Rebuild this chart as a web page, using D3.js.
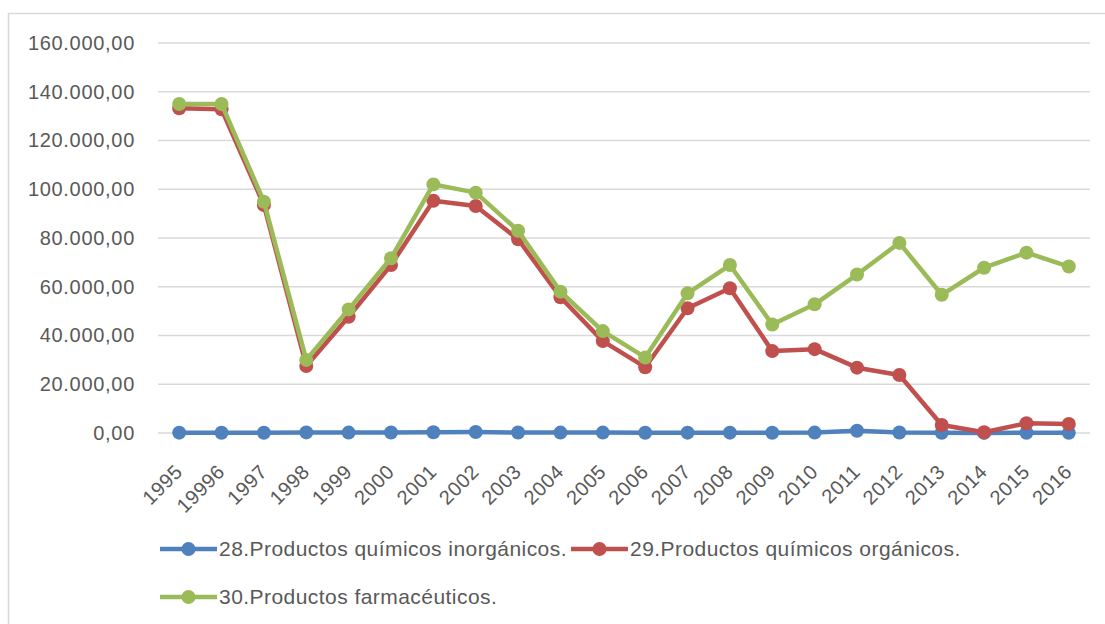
<!DOCTYPE html>
<html>
<head>
<meta charset="utf-8">
<script src="https://cdn.jsdelivr.net/npm/d3@7"></script>
<style>
    body { margin: 0; background: #fff; }
    svg { display: block; }
</style>
</head>
<body>
<div id="chart"></div>
<script>
"use strict";

const WIDTH = 1105;
const HEIGHT = 624;

const years = ["1995", "19996", "1997", "1998", "1999", "2000", "2001", "2002", "2003", "2004", "2005",
    "2006", "2007", "2008", "2009", "2010", "2011", "2012", "2013", "2014", "2015", "2016"];

const inorganicos = [150, 120, 130, 250, 170, 190, 330, 420, 200, 170, 160,
    130, 140, 150, 120, 160, 900, 200, 80, 50, 90, 70];
const organicos = [133200, 132800, 93500, 27500, 47700, 68900, 95300, 93100, 79500, 55700, 37700,
    27000, 51200, 59400, 33600, 34400, 26800, 23800, 3300, 300, 4000, 3700];
const farmaceuticos = [135000, 135000, 94900, 30000, 50700, 71700, 102000, 98600, 83000, 58000, 41800,
    31000, 57300, 68900, 44500, 52800, 65000, 78000, 56700, 67800, 74000, 68300];

const seriesNames = ["28.Productos químicos inorgánicos.", "29.Productos químicos orgánicos.", "30.Productos farmacéuticos."];
const seriesColors = ["#4f81bd", "#c0504d", "#9bbb59"];
const yTicks = [0, 20000, 40000, 60000, 80000, 100000, 120000, 140000, 160000];

const series = [inorganicos, organicos, farmaceuticos].map((values, i) => ({
    name: seriesNames[i],
    color: seriesColors[i],
    values: values
}));

const locale = d3.formatLocale({ decimal: ",", thousands: ".", grouping: [3], currency: ["", ""] });
const formatValue = locale.format(",.2f");

const svg = d3.select("#chart")
    .append("svg")
    .attr("width", WIDTH)
    .attr("height", HEIGHT);

svg.append("rect")
    .attr("width", WIDTH)
    .attr("height", HEIGHT)
    .attr("fill", "#fff");

// outer chart border
svg.append("rect")
    .attr("x", 8.5)
    .attr("y", 13.5)
    .attr("width", WIDTH + 20)
    .attr("height", HEIGHT + 20)
    .attr("fill", "none")
    .attr("stroke", "#d9d9d9")
    .attr("stroke-width", 1.5);

const x = d3.scalePoint()
    .domain(years)
    .range([158, 1090])
    .padding(0.5);

const y = d3.scaleLinear()
    .domain([0, 160000])
    .range([433, 43]);

// gridlines
svg.append("g")
    .selectAll("line")
    .data(yTicks)
    .join("line")
    .attr("x1", 158)
    .attr("x2", 1090)
    .attr("y1", d => y(d))
    .attr("y2", d => y(d))
    .attr("stroke", "#d9d9d9")
    .attr("stroke-width", 1.5);

// y axis labels
const yAxis = svg.append("g")
    .attr("transform", "translate(135,0)")
    .call(d3.axisLeft(y).tickValues(yTicks).tickFormat(formatValue).tickSize(0).tickPadding(0));

yAxis.select(".domain").remove();
yAxis.selectAll("text")
    .attr("fill", "#595959")
    .style("font-family", "'Liberation Sans', Arial, sans-serif")
    .style("font-size", "20px")
    .style("letter-spacing", "0.7px");

// x axis labels, rotated
const xAxis = svg.append("g")
    .attr("transform", "translate(0,433)")
    .call(d3.axisBottom(x).tickSize(0).tickPadding(0));

xAxis.select(".domain").remove();
xAxis.selectAll("text")
    .attr("fill", "#595959")
    .attr("text-anchor", "end")
    .attr("dy", null)
    .attr("y", 0)
    .attr("transform", "translate(4,40) rotate(-45)")
    .style("font-family", "'Liberation Sans', Arial, sans-serif")
    .style("font-size", "20px")
    .style("letter-spacing", "0.5px");

const line = d3.line()
    .x((_, i) => x(years[i]))
    .y(d => y(d));

const seriesGroups = svg.append("g")
    .selectAll("g")
    .data(series)
    .join("g");

seriesGroups.append("path")
    .attr("d", d => line(d.values))
    .attr("fill", "none")
    .attr("stroke", d => d.color)
    .attr("stroke-width", 4.5)
    .attr("stroke-linejoin", "round");

seriesGroups.selectAll("circle")
    .data(d => d.values.map(v => ({ v, color: d.color })))
    .join("circle")
    .attr("cx", (_, i) => x(years[i]))
    .attr("cy", d => y(d.v))
    .attr("r", 7)
    .attr("fill", d => d.color);

// legend
const legendPositions = [
    { x: 160, y: 549 },
    { x: 571, y: 549 },
    { x: 160, y: 597 }
];

const legend = svg.append("g")
    .selectAll("g")
    .data(series)
    .join("g")
    .attr("transform", (_, i) => `translate(${legendPositions[i].x},${legendPositions[i].y})`);

legend.append("line")
    .attr("x1", 0)
    .attr("x2", 57)
    .attr("stroke", d => d.color)
    .attr("stroke-width", 4.5);

legend.append("circle")
    .attr("cx", 28.5)
    .attr("r", 7)
    .attr("fill", d => d.color);

legend.append("text")
    .attr("x", 59)
    .attr("dy", "0.35em")
    .attr("fill", "#595959")
    .style("font-family", "'Liberation Sans', Arial, sans-serif")
    .style("font-size", "21px")
    .style("letter-spacing", "0.45px")
    .text(d => d.name);
</script>
</body>
</html>
